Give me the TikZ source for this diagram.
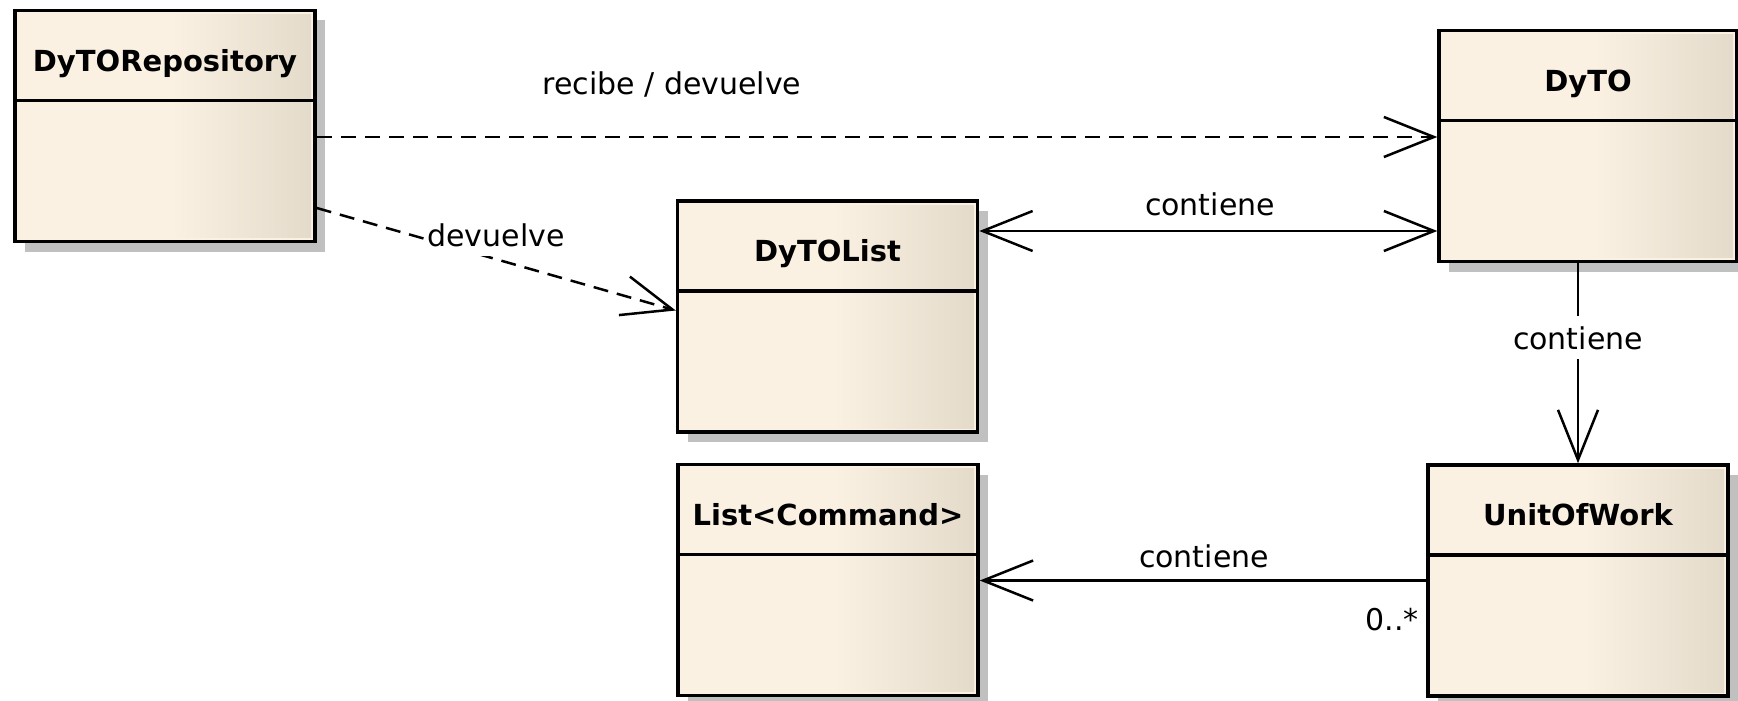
\documentclass[tikz,border=0pt]{standalone}
\usepackage{fontspec}
\setmainfont{DejaVu Sans}
\usetikzlibrary{arrows.meta,shadows,calc}

\definecolor{boxcream}{RGB}{251,241,226}
\definecolor{boxbeige}{RGB}{227,218,202}
\definecolor{shadowgray}{RGB}{192,192,192}

% class body: flat cream on the left half, fading to beige on the right
\pgfdeclarehorizontalshading{classfill}{100bp}{color(0bp)=(boxcream); color(25bp)=(boxcream); color(51bp)=(boxcream); color(75bp)=(boxbeige); color(100bp)=(boxbeige)}

\tikzset{
  classbox/.style={draw, line width=3.5pt, minimum width=300pt, minimum height=231pt,
    inner sep=0pt, fill=boxcream,
    drop shadow={shadow xshift=10pt, shadow yshift=-10pt, fill=shadowgray, opacity=1},
    path picture={
      \shade[shading=classfill]
        ([shift={(4pt,-4pt)}]path picture bounding box.north west) rectangle
        ([shift={(-4pt,4pt)}]path picture bounding box.south east);
      \draw[line width=3.5pt]
        ([yshift=-90pt]path picture bounding box.north west) --
        ([yshift=-90pt]path picture bounding box.north east);
    }},
  classtitle/.style={font=\fontsize{29}{34}\selectfont\bfseries, anchor=base, inner sep=0pt},
  lbl/.style={font=\fontsize{30}{36}\selectfont, anchor=base, inner sep=0pt},
  masklbl/.style={lbl, fill=white, inner xsep=3pt, inner ysep=10pt},
  conn/.style={line width=2.5pt},
  dep/.style={conn, dash pattern=on 15pt off 9pt},
  navarrow/.style={-{Straight Barb[length=50pt,width=40pt]}},
  bothnav/.style={{Straight Barb[length=50pt,width=40pt]}-{Straight Barb[length=50pt,width=40pt]}}
}

\begin{document}
\begin{tikzpicture}[x=1pt, y=-1pt]
\useasboundingbox (0,0) rectangle (1738,701);

% classes
\node[classbox] (repo)     at (165,126)    {};
\node[classbox, minimum width=298pt] (dyto) at (1588,146) {};
\node[classbox] (dytolist) at (827.5,316.5) {};
\node[classbox] (listcmd)  at (828,580)    {};
\node[classbox] (uow)      at (1578,580.5) {};

% class names
\node[classtitle] (repoT)     at ($(repo.north)+(0,62.5)$)     {DyTORepository};
\node[classtitle] (dytoT)     at ($(dyto.north)+(0,62.5)$)     {DyTO};
\node[classtitle] (dytolistT) at ($(dytolist.north)+(0,62.5)$) {DyTOList};
\node[classtitle] (listcmdT)  at ($(listcmd.north)+(0,62.5)$)  {List<Command>};
\node[classtitle] (uowT)      at ($(uow.north)+(0,62.5)$)      {UnitOfWork};

% dependencies
\draw[dep, navarrow] ([yshift=-11pt]repo.east) -- ([yshift=-11pt]repo.east -| dyto.west);
\draw[dep, navarrow] ([yshift=-82pt]repo.east) -- ([yshift=6pt]dytolist.west);

% associations
\draw[conn, bothnav] ([yshift=85.5pt]dytolist.east) -- ([yshift=85.5pt]dytolist.east -| dyto.west);
\draw[conn, navarrow] (dyto.south -| uow.north) -- (uow.north);
\draw[conn, navarrow] (uow.west) -- (uow.west -| listcmd.east);

% association labels
\node[lbl] (lRecibe)  at (672,95)   {recibe / devuelve};
\node[masklbl] (lDevuelve) at (496,246) {devuelve};
\node[lbl] (lCont1)   at (1210,215) {contiene};
\node[masklbl] (lCont2) at (1578,349) {contiene};
\node[lbl] (lCont3)   at (1204,567) {contiene};
\node[lbl, anchor=base east] (lMult) at (1419,630) {0..*};
\end{tikzpicture}
\end{document}
